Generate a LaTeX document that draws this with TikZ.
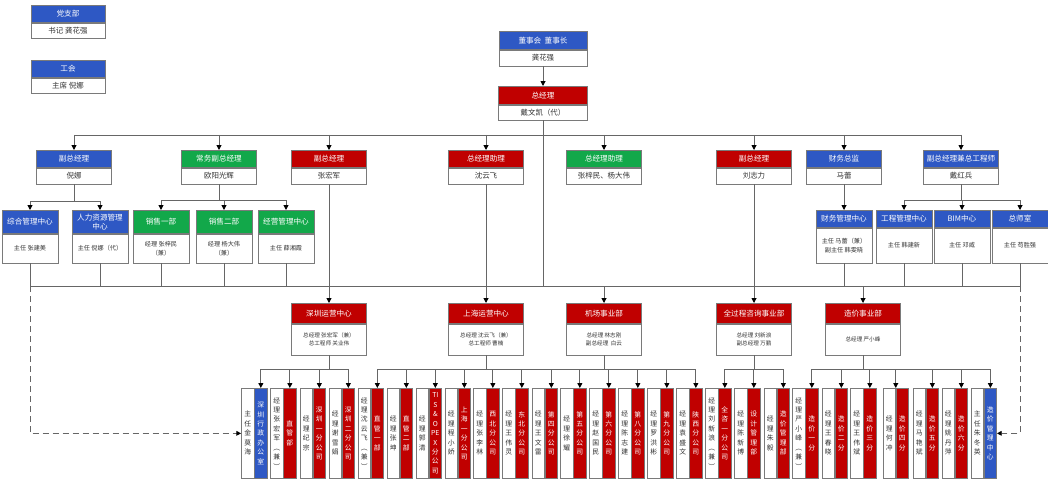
\documentclass[tikz,border=0pt]{standalone}
\usepackage{fontspec}
\setmainfont{Noto Sans CJK SC}
\usetikzlibrary{arrows.meta}
\definecolor{cblue}{HTML}{2E58C4}
\definecolor{cred}{HTML}{C00000}
\definecolor{cgreen}{HTML}{12A84A}
\definecolor{bgray}{HTML}{7A7A7A}
\definecolor{lgray}{HTML}{666666}
\definecolor{tgray}{HTML}{333333}
\makeatletter
\def\vt#1{\vt@a#1\@nil}
\def\vt@a#1#2\@nil{#1\ifx\relax#2\relax\expandafter\@gobble\else\expandafter\@firstofone\fi{\\\vt@a#2\@nil}}
\makeatother
\def\bfont{\fontsize{5.6}{6.8}\selectfont}
\tikzset{
 hd/.style={draw=bgray, line width=0.5pt, inner sep=0pt, text=white, font=\fontsize{5.7}{6.8}\selectfont, align=center},
 bd/.style={draw=bgray, line width=0.5pt, fill=white, inner sep=0pt, text=tgray, align=center, font=\bfont},
 ln/.style={draw=lgray, line width=0.7pt},
 arr/.style={ln, -{Triangle[length=3.6pt,width=3.6pt,color=black]}},
 dsh/.style={ln, dash pattern=on 4.5pt off 3pt, -{Triangle[length=3.6pt,width=3.6pt,color=black]}},
 vw/.style={draw=bgray, line width=0.5pt, fill=white, inner sep=0pt, minimum width=12.5*0.75pt, minimum height=90*0.75pt, text=tgray, align=center, font=\fontsize{5.1}{7.1}\selectfont},
 vc/.style={vw, text=white},
}
\newcommand\obox[9]{%
  \node[hd, fill=#7, minimum width=#4*0.75pt, minimum height=#5*0.75pt, anchor=north] (#1-h) at (#2,#3) {#8};
  \node[bd, minimum width=#4*0.75pt, minimum height=#6*0.75pt, anchor=north] (#1) at (#1-h.south) {#9};}
\newcommand\vpair[5]{%
  \node[vw, anchor=north east] (#1w) at ({#2-6.25},388) {\vt{#4}};
  \node[vc, fill=#3, anchor=north west] (#1) at ({#2-6.25},388) {\vt{#5}};}
\begin{document}
\begin{tikzpicture}[x=0.75pt,y=-0.75pt]
\fill[white] (0,0) rectangle (1048,481);
\useasboundingbox (0,0) rectangle (1048,481);
% top
\obox{dzb}{68}{5}{74}{17}{15}{cblue}{党支部}{书记 龚花强}
\obox{gh}{68}{60}{74}{17}{15}{cblue}{工会}{主席 倪娜}
\obox{dsh}{543}{31}{88}{18}{16}{cblue}{董事会\ \ 董事长}{龚花强}
\obox{zjl}{543}{86}{89}{18}{15}{cred}{总经理}{戴文凯（代）}
% level 2
\obox{fa}{74}{150}{75}{17}{16}{cblue}{副总经理}{倪娜}
\obox{fb}{219}{150}{75}{17}{16}{cgreen}{常务副总经理}{欧阳光辉}
\obox{fc}{329}{150}{75}{17}{16}{cred}{副总经理}{张宏军}
\obox{fd}{486}{150}{75}{17}{16}{cred}{总经理助理}{沈云飞}
\obox{fe}{604}{150}{75}{17}{16}{cgreen}{总经理助理}{张梓民、杨大伟}
\obox{ff}{754}{150}{75}{17}{16}{cred}{副总经理}{刘志力}
\obox{fg}{844}{150}{75}{17}{16}{cblue}{财务总监}{马蕾}
\obox{fh}{961}{150}{75}{17}{16}{cblue}{副总经理兼总工程师}{戴红兵}
% level 3
\def\bfont{\fontsize{4.6}{6.4}\selectfont}
\obox{ca}{30}{210}{56}{23}{29}{cblue}{综合管理中心}{主任 张建美}
\obox{cb}{100}{210}{56}{23}{29}{cblue}{人力资源管理\\中心}{主任 倪娜（代）}
\obox{cc}{161}{210}{56}{23}{29}{cgreen}{销售一部}{经理 张梓民\\（兼）}
\obox{cd}{224}{210}{56}{23}{29}{cgreen}{销售二部}{经理 杨大伟\\（兼）}
\obox{ce}{286}{210}{56}{23}{29}{cgreen}{经营管理中心}{主任 薛湘霞}
\obox{cf}{844}{210}{56}{17}{35}{cblue}{财务管理中心}{主任 马蕾（兼）\\副主任 韩雯晓}
\obox{cg}{904}{210}{56}{17}{35}{cblue}{工程管理中心}{主任 韩建新}
\obox{ch}{962}{210}{56}{17}{35}{cblue}{BIM中心}{主任 邓威}
\obox{ci}{1020}{210}{56}{17}{35}{cblue}{总师室}{主任 苟胜强}
% level 4
\def\bfont{\fontsize{4.2}{6}\selectfont}
\obox{sz}{329}{303}{75}{20}{31}{cred}{深圳运营中心}{总经理 张宏军（兼）\\总工程师 关业伟}
\obox{sh}{486}{303}{75}{20}{31}{cred}{上海运营中心}{总经理 沈云飞（兼）\\总工程师 曹楠}
\obox{jc}{604}{303}{75}{20}{31}{cred}{机场事业部}{总经理 林志刚\\副总经理\ \ 白云}
\obox{qg}{754}{303}{75}{20}{31}{cred}{全过程咨询事业部}{总经理 刘新浪\\副总经理 万鹏}
\obox{zj}{863}{303}{75}{20}{31}{cred}{造价事业部}{总经理 严小峰}
% level 5
\vpair{p1}{260.5}{cblue}{主任金莫海}{深圳行政办公室}
\vpair{p2}{289.5}{cred}{经理张宏军︵兼︶}{直管部}
\vpair{p3}{319}{cred}{经理纪宗}{深圳一分公司}
\vpair{p4}{348}{cred}{经理谢雪娟}{深圳二分公司}
\vpair{p5}{377}{cred}{经理沈云飞︵兼︶}{直管一部}
\vpair{p6}{406}{cred}{经理张坤}{直管二部}
\vpair{p7}{435}{cred}{经理郭清}{{TI}S\&O{PE}X分公司}
\vpair{p8}{464}{cred}{经理程小娇}{上海一分公司}
\vpair{p9}{492.5}{cred}{经理张李林}{西北分公司}
\vpair{p10}{521.5}{cred}{经理王伟灵}{东北分公司}
\vpair{p11}{551}{cred}{经理王文雷}{第四分公司}
\vpair{p12}{579.5}{cred}{经理徐耀}{第五分公司}
\vpair{p13}{608.5}{cred}{经理赵国民}{第六分公司}
\vpair{p14}{637.5}{cred}{经理陈志建}{第八分公司}
\vpair{p15}{666.5}{cred}{经理罗洪彬}{第九分公司}
\vpair{p16}{695.5}{cred}{经理袁盛文}{陕西分公司}
\vpair{p17}{724.5}{cred}{经理刘新浪︵兼︶}{全咨一分公司}
\vpair{p18}{753.5}{cred}{经理陈新博}{设计管理部}
\vpair{p19}{783}{cred}{经理朱毅}{造价管理部}
\vpair{p20}{811.5}{cred}{经理严小峰︵兼︶}{造价一分}
\vpair{p21}{841}{cred}{经理王春晓}{造价二分}
\vpair{p22}{869.5}{cred}{经理王伟斌}{造价三分}
\vpair{p23}{902}{cred}{经理何冲}{造价四分}
\vpair{p24}{932}{cred}{经理马艳斌}{造价五分}
\vpair{p25}{961}{cred}{经理姚丹萍}{造价六分}
\vpair{p26}{990}{cblue}{主任朱冬英}{造价管理中心}
% connectors
\coordinate (b1) at (543,135);
\coordinate (b2) at (543,286);
\coordinate (b5) at (543,369);
\draw[arr] (dsh.south) -- (zjl-h.north);
\draw[ln] (zjl.south) -- (b2);
\draw[ln] (fa-h.north |- b1) -- (fh-h.north |- b1);
\foreach \n in {fa,fb,fc,fd,fe,ff,fg,fh} \draw[arr] (\n-h.north |- b1) -- (\n-h.north);
% level 2 -> 3
\coordinate (b3a) at (74,201);
\draw[ln] (fa.south) -- (b3a);
\draw[ln] (ca-h.north |- b3a) -- (cb-h.north |- b3a);
\foreach \n in {ca,cb} \draw[arr] (\n-h.north |- b3a) -- (\n-h.north);
\coordinate (b3b) at (219,200);
\draw[ln] (fb.south) -- (b3b);
\draw[ln] (cc-h.north |- b3b) -- (ce-h.north |- b3b);
\foreach \n in {cc,cd,ce} \draw[arr] (\n-h.north |- b3b) -- (\n-h.north);
\draw[arr] (fg.south) -- (cf-h.north);
\coordinate (b3c) at (961,200);
\draw[ln] (fh.south) -- (b3c);
\draw[ln] (cg-h.north |- b3c) -- (ci-h.north |- b3c);
\foreach \n in {cg,ch,ci} \draw[arr] (\n-h.north |- b3c) -- (\n-h.north);
% level 3 -> bus 2
\foreach \n in {ca,cb,cc,cd,ce,cf,cg,ch,ci} \draw[ln] (\n.south) -- (\n.south |- b2);
\draw[ln] (ca.south |- b2) -- (ci.south |- b2);
\draw[arr] (fc.south) -- (sz-h.north);
\draw[arr] (fd.south) -- (sh-h.north);
\draw[arr] (ff.south) -- (qg-h.north);
\draw[arr] (jc-h.north |- b2) -- (jc-h.north);
\draw[arr] (zj-h.north |- b2) -- (zj-h.north);
\draw[dsh] (ca.south |- b2) |- (p1w.west);
\draw[dsh] (ci.south |- b2) |- (p26.east);
% level 4 -> 5
\draw[ln] (sz.south) -- (sz.south |- b5);
\draw[ln] (p1.north |- b5) -- (p4.north |- b5);
\foreach \n in {p1,p2,p3,p4} \draw[arr] (\n.north |- b5) -- (\n.north);
\draw[ln] (sh.south) -- (sh.south |- b5);
\draw[ln] (jc.south) -- (jc.south |- b5);
\draw[ln] (p5.north |- b5) -- (p16.north |- b5);
\foreach \n in {p5,p6,p7,p8,p9,p10,p11,p12,p13,p14,p15,p16} \draw[arr] (\n.north |- b5) -- (\n.north);
\draw[ln] (qg.south) -- (qg.south |- b5);
\draw[ln] (p17.north |- b5) -- (p19.north |- b5);
\foreach \n in {p17,p18,p19} \draw[arr] (\n.north |- b5) -- (\n.north);
\draw[ln] (zj.south) -- (zj.south |- b5);
\draw[ln] (p20.north |- b5) -- (p26.north |- b5);
\foreach \n in {p20,p21,p22,p24,p25,p26} \draw[arr] (\n.north |- b5) -- (\n.north);
\draw[arr] (p23.north west |- b5) -- (p23.north west);
\end{tikzpicture}
\end{document}
